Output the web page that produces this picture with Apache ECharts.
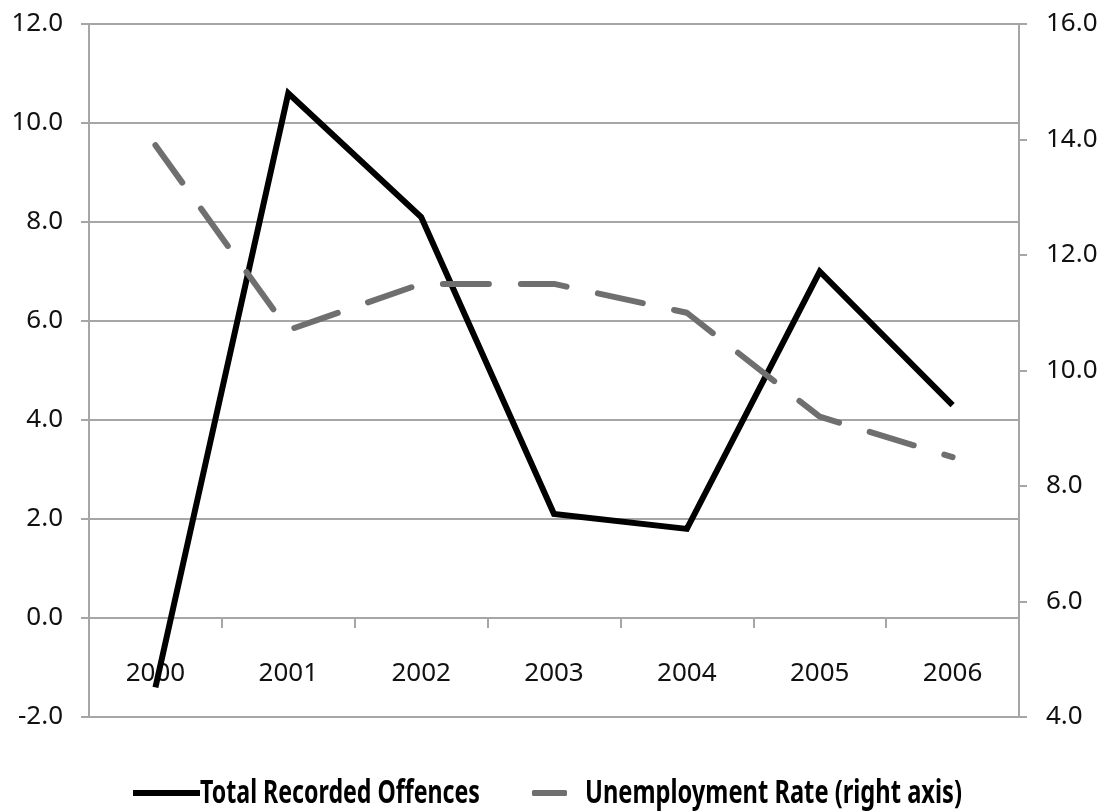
<!DOCTYPE html>
<html>
<head>
<meta charset="utf-8">
<script src="https://cdn.jsdelivr.net/npm/echarts@6/dist/echarts.min.js"></script>
<style>html,body{margin:0;padding:0;background:#fff;}#c{width:1107px;height:812px;}</style>
</head>
<body>
<div id="c"></div>
<script>
var categories = ['2000', '2001', '2002', '2003', '2004', '2005', '2006'];
var offences = [-1.4, 10.6, 8.1, 2.1, 1.8, 7.0, 4.3];
var unemployment = [13.9, 10.7, 11.5, 11.5, 11.0, 9.2, 8.5];
var seriesNames = ['Total Recorded Offences', 'Unemployment Rate (right axis)'];

var legendFont = 'bold 33px "Noto Sans"';
function fitScale(text, font, target) {
  var ctx = document.createElement('canvas').getContext('2d');
  ctx.font = font;
  return target / ctx.measureText(text).width;
}

var chart = echarts.init(document.getElementById('c'));
var labelFont = {fontFamily: 'Noto Sans', fontSize: 26, color: '#111'};
var gray = '#a6a6a6';
chart.setOption({
  animation: false,
  backgroundColor: '#fff',
  grid: {left: 89, right: 88, top: 24, bottom: 95, containLabel: false},
  legend: [
    {
      left: 133, top: 790, padding: 0, itemWidth: 67, itemHeight: 6, itemGap: 0,
      formatter: function () { return ''; },
      data: [{name: seriesNames[0], icon: 'rect'}]
    },
    {
      left: 532, top: 790, padding: 0, itemWidth: 35, itemHeight: 6, itemGap: 0,
      formatter: function () { return ''; },
      data: [{name: seriesNames[1], icon: 'roundRect'}]
    }
  ],
  graphic: [
    {type: 'text', x: 200, y: 794, scaleX: fitScale(seriesNames[0], legendFont, 280), silent: true,
     style: {text: seriesNames[0], font: legendFont, fill: '#000', verticalAlign: 'middle', align: 'left'}},
    {type: 'text', x: 585, y: 794, scaleX: fitScale(seriesNames[1], legendFont, 377), silent: true,
     style: {text: seriesNames[1], font: legendFont, fill: '#000', verticalAlign: 'middle', align: 'left'}}
  ],
  xAxis: {
    type: 'category', data: categories, boundaryGap: true,
    axisLine: {onZero: true, onZeroAxisIndex: 0, lineStyle: {color: gray, width: 2}},
    axisTick: {show: true, length: 10, interval: 0, lineStyle: {color: gray, width: 2}},
    axisLabel: Object.assign({margin: -56}, labelFont)
  },
  yAxis: [
    {
      type: 'value', min: -2, max: 12, interval: 2, position: 'left',
      axisLine: {show: true, lineStyle: {color: gray, width: 2}},
      axisTick: {show: true, length: 8, lineStyle: {color: gray, width: 2}},
      splitLine: {show: true, lineStyle: {color: gray, width: 2}},
      axisLabel: Object.assign({margin: 26, formatter: function (v) { return v.toFixed(1); }}, labelFont)
    },
    {
      type: 'value', min: 4, max: 16, interval: 2, position: 'right',
      axisLine: {show: true, lineStyle: {color: gray, width: 2}},
      axisTick: {show: true, length: 8, lineStyle: {color: gray, width: 2}},
      splitLine: {show: false},
      axisLabel: Object.assign({margin: 27, formatter: function (v) { return v.toFixed(1); }}, labelFont)
    }
  ],
  series: [
    {
      name: seriesNames[0], type: 'line', yAxisIndex: 0, data: offences,
      symbol: 'none', itemStyle: {color: '#000'},
      lineStyle: {color: '#000', width: 6, join: 'miter'}
    },
    {
      name: seriesNames[1], type: 'line', yAxisIndex: 1, data: unemployment,
      symbol: 'none', itemStyle: {color: '#6f6f6f'},
      lineStyle: {color: '#6f6f6f', width: 6, type: [46, 32], cap: 'round', join: 'round'}
    }
  ]
});
</script>
</body>
</html>
